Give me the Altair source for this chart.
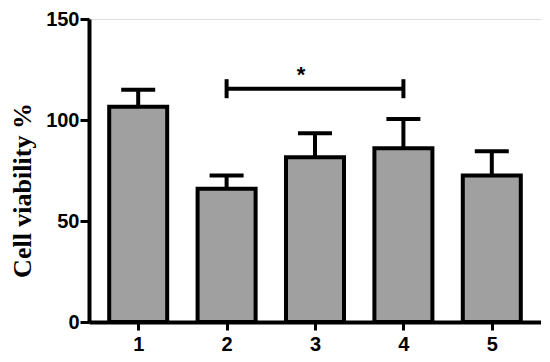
import altair as alt
import pandas as pd

groups = [1, 2, 3, 4, 5]
means = [106.5, 66.0, 81.5, 86.0, 72.5]
upper = [115.0, 72.5, 93.5, 100.5, 84.5]

sig_from = [2]
sig_to = [4]
sig_y = [115.5]
sig_star_y = [122.5]
sig_label = ["*"]

df = pd.DataFrame({"g": groups, "mean": means, "upper": upper})
sig = pd.DataFrame({"a": sig_from, "b": sig_to, "y": sig_y, "sy": sig_star_y,
                    "mid": [(a + b) / 2 for a, b in zip(sig_from, sig_to)], "t": sig_label})

xs = alt.Scale(domain=[0.5, 5.5], nice=False, zero=False)
ys = alt.Scale(domain=[0, 150], nice=False)

xax = alt.Axis(values=groups, title=None, format="d", labelFont="Liberation Sans",
               labelFontWeight="bold", labelFontSize=20, labelColor="black",
               domainColor="black", domainWidth=4, tickColor="black", tickWidth=3,
               tickSize=8, labelPadding=4, grid=False)
yax = alt.Axis(values=[0, 50, 100, 150], title="Cell viability %", labelFont="Liberation Sans",
               labelFontWeight="bold", labelFontSize=20, labelColor="black",
               domainColor="black", domainWidth=4, tickColor="black", tickWidth=3,
               tickSize=9, labelPadding=1, grid=False,
               titleFont="Liberation Serif", titleFontWeight="bold", titleFontSize=26,
               titleColor="black", titleAngle=-90, titleAlign="center", titleBaseline="middle",
               titleX=-67, titleY=171)

base = alt.Chart(df)

err = base.mark_rule(color="black", strokeWidth=4).encode(
    x=alt.X("g:Q", scale=xs, axis=xax), y=alt.Y("mean:Q", scale=ys, axis=yax), y2="upper:Q")
cap = base.mark_tick(color="black", orient="horizontal", size=34, thickness=4, opacity=1).encode(
    x=alt.X("g:Q", scale=xs), y=alt.Y("upper:Q", scale=ys))
bars = base.mark_bar(size=58, fill="#a0a0a0", stroke="black", strokeWidth=4).encode(
    x=alt.X("g:Q", scale=xs), y=alt.Y("mean:Q", scale=ys))

sbase = alt.Chart(sig)
sline = sbase.mark_rule(color="black", strokeWidth=4).encode(
    x=alt.X("a:Q", scale=xs), x2="b:Q", y=alt.Y("y:Q", scale=ys))
send1 = sbase.mark_tick(color="black", orient="vertical", size=19, thickness=4, opacity=1).encode(
    x=alt.X("a:Q", scale=xs), y=alt.Y("y:Q", scale=ys))
send2 = sbase.mark_tick(color="black", orient="vertical", size=19, thickness=4, opacity=1).encode(
    x=alt.X("b:Q", scale=xs), y=alt.Y("y:Q", scale=ys))
star = sbase.mark_text(font="Liberation Sans", fontWeight="bold", fontSize=22, color="black",
                       baseline="middle", dx=-14).encode(
    x=alt.X("mid:Q", scale=xs), y=alt.Y("sy:Q", scale=ys), text="t:N")

chart = alt.layer(err, cap, bars, sline, send1, send2, star).properties(
    width=452, height=303,
    autosize=alt.AutoSizeParams(type="none"),
    padding={"left": 81, "top": 11, "right": 0, "bottom": 32},
).configure_view(stroke=None).configure(background="white")

chart.save("out.html", embed_options={"renderer": "svg", "actions": False})
